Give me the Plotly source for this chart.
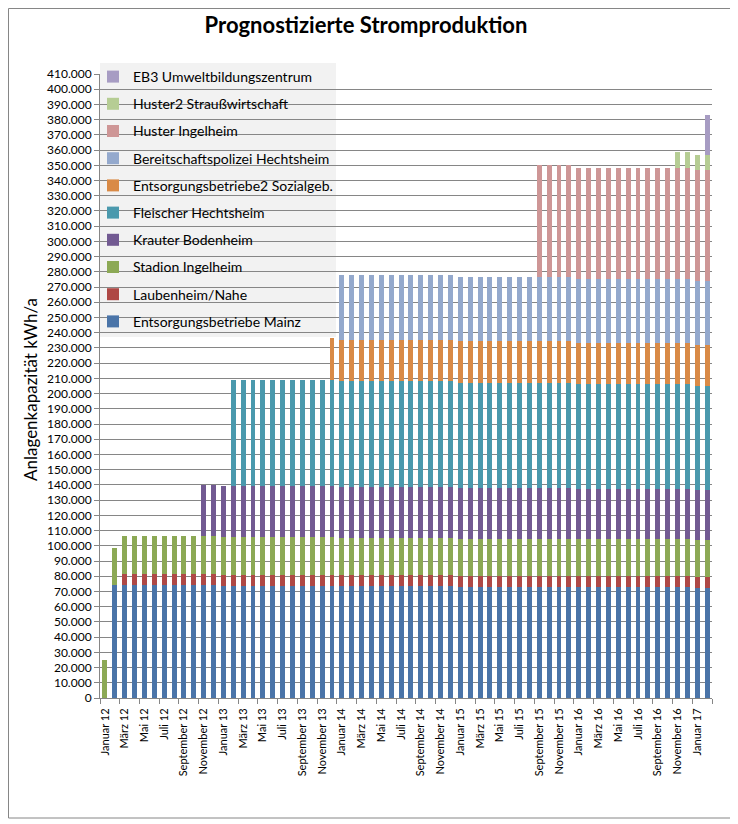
import plotly.graph_objects as go

# ---- tick labels ----
MONTH_NAMES = ["Januar", "Februar", "März", "April", "Mai", "Juni", "Juli",
               "August", "September", "Oktober", "November", "Dezember"]
YEARS = ["12", "13", "14", "15", "16", "17"]
months = [f"{m} {y}" for y in YEARS for m in MONTH_NAMES][:62]

# ---- series values (kWh/a), one value per month Jan 12 .. Feb 17 ----
eb_mainz = [0] + [74000] * 11 + [73700] * 12 + [73400] * 12 + [73100] * 12 + [72700] * 12 + [72400] * 2
laubenheim = [0, 0] + [7400] * 10 + [7350] * 12 + [7300] * 12 + [7280] * 12 + [7250] * 12 + [7200] * 2
stadion = [25000] + [24800] * 11 + [24700] * 12 + [24500] * 12 + [24400] * 12 + [24200] * 12 + [24100] * 2
krauter = [0] * 10 + [33800] * 2 + [33700] * 12 + [33500] * 12 + [33400] * 12 + [33200] * 12 + [33000] * 2
fleischer = [0] * 13 + [69500] * 11 + [69300] * 12 + [69000] * 12 + [68700] * 12 + [68400] * 2
entsorg2 = [0] * 23 + [27300] + [27200] * 12 + [27100] * 12 + [27000] * 12 + [26800] * 2
bereitschaft = [0] * 24 + [42800] * 12 + [42600] * 12 + [42000] * 12 + [41800] * 2
huster = [0] * 44 + [73300] * 4 + [73300] * 12 + [73000] * 2
huster2 = [0] * 58 + [10300] * 2 + [10200] * 2
eb3 = [0] * 61 + [26000]

series_names = ["Entsorgungsbetriebe Mainz", "Laubenheim/Nahe", "Stadion Ingelheim",
                "Krauter Bodenheim", "Fleischer Hechtsheim", "Entsorgungsbetriebe2 Sozialgeb.",
                "Bereitschaftspolizei Hechtsheim", "Huster Ingelheim",
                "Huster2 Straußwirtschaft", "EB3 Umweltbildungszentrum"]
series_values = [eb_mainz, laubenheim, stadion, krauter, fleischer, entsorg2,
                 bereitschaft, huster, huster2, eb3]
series_colors = ["#4A74A8", "#AE4845", "#8CA955", "#725A92", "#4A99AD", "#D98A46",
                 "#94A9CD", "#CE9696", "#B6CD94", "#A79CC3"]

x = list(range(len(months)))

fig = go.Figure()
n = len(series_names)
for i, (name, vals, col) in enumerate(zip(series_names, series_values, series_colors)):
    fig.add_trace(go.Bar(x=x, y=vals, name=name, legendgroup=name, legendrank=1000 + n - i,
                         marker=dict(color=col, line=dict(width=0))))

# page offset of the browser body (8px) is compensated here
OFF = 8
W, H = 738 - OFF, 824 - OFF
L, R, T, B = 100 - OFF, 712 - OFF, 74 - OFF, 698 - OFF
pw, ph = R - L, B - T


def px(v):  # page x -> paper
    return (v - OFF - L) / pw


def py(v):  # page y -> paper
    return (B - (v - OFF)) / ph


fig.update_layout(
    width=W, height=H,
    margin=dict(l=L, r=W - R, t=T, b=H - B),
    barmode="stack", bargap=0.5,
    separators=",.",
    paper_bgcolor="white", plot_bgcolor="white",
    font=dict(family="Lato", color="black"),
    title=dict(text="<b>Prognostizierte Stromproduktion</b>", x=(366 - OFF) / W, xanchor="center",
               y=1 - (25 - OFF) / H, yanchor="middle", font=dict(size=22, family="Lato")),
    xaxis=dict(range=[-0.5, len(months) - 0.5], tickmode="array", tickvals=x[::2],
               ticktext=months[::2], tickangle=-90, ticks="outside", ticklen=5,
               tickcolor="rgba(0,0,0,0)", showgrid=False, showline=True,
               linecolor="#868686", tickfont=dict(size=11), zeroline=False,
               minor=dict(tick0=-0.5, dtick=2, ticks="outside", ticklen=5,
                          tickcolor="#868686", showgrid=False)),
    yaxis=dict(range=[0, 410000], dtick=10000, tickformat=",d", showgrid=True,
               gridcolor="#868686", gridwidth=1, showline=True, linecolor="#868686",
               ticks="outside", ticklen=5, tickcolor="#868686", zeroline=False,
               tickfont=dict(size=12)),
    legend=dict(x=px(93), xanchor="left", y=py(61), yanchor="top",
                bgcolor="rgba(0,0,0,0)", traceorder="grouped", tracegroupgap=6,
                font=dict(size=14)),
    showlegend=True,
)

fig.add_annotation(text="Anlagenkapazität kWh/a", textangle=-90, xref="paper", yref="paper",
                   x=px(30), y=py(390), xanchor="center", yanchor="middle",
                   showarrow=False, font=dict(size=17))

# legend background panel
fig.add_shape(type="rect", xref="paper", yref="paper", x0=0, x1=px(336), y0=py(337), y1=py(63),
              fillcolor="#F2F2F2", line=dict(width=0), layer="below")
# chart border
fig.add_shape(type="rect", xref="paper", yref="paper", x0=px(8.5), x1=px(731), y0=py(818), y1=py(8.5),
              line=dict(color="#868686", width=1), fillcolor="rgba(0,0,0,0)")

fig.write_html("out.html")
